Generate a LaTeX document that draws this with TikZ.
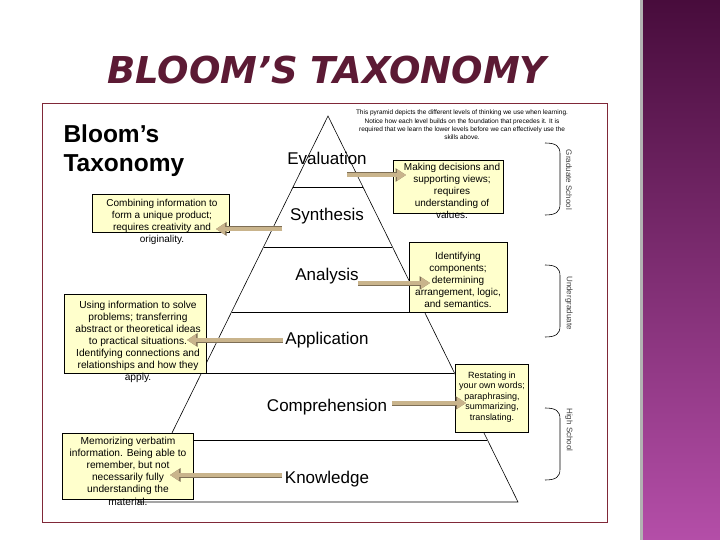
\documentclass[tikz,border=0pt]{standalone}
\usepackage{fontspec}
\setmainfont{Liberation Sans}
\newfontfamily\titlefont{DejaVu Sans}
\usetikzlibrary{arrows.meta}
\definecolor{titlered}{RGB}{92,26,52}
\definecolor{framered}{RGB}{128,40,56}
\definecolor{notebox}{RGB}{255,255,204}
\definecolor{arrowtan}{RGB}{201,180,140}
\definecolor{arrowedge}{RGB}{125,110,85}
\definecolor{stripdark}{RGB}{72,12,60}
\definecolor{stripmid}{RGB}{125,45,112}
\definecolor{striplight}{RGB}{180,78,168}

\begin{document}
\begin{tikzpicture}[x=1pt,y=-1pt,
  note/.style={draw=black,line width=0.5pt,fill=notebox,inner sep=0pt},
  notetext/.style={font=\fontsize{10}{11.8}\selectfont,align=center,inner sep=0pt},
  level/.style={font=\fontsize{17}{20}\selectfont},
  flow/.style={draw=arrowtan,line width=3.6pt,-{Triangle[length=9pt,width=11pt]},
    preaction={draw=arrowedge,line width=5pt,-{Triangle[length=10.5pt,width=13pt]}}},
  bracket/.style={line width=0.6pt},
  school/.style={font=\fontsize{8}{9}\selectfont,rotate=-90,text=black!75}]
\useasboundingbox (0,0) rectangle (720,540);
\fill[white] (0,0) rectangle (720,540);
% side strip
\fill[black!30] (640,0) rectangle (643,540);
\shade[top color=stripdark,middle color=stripmid,bottom color=striplight] (643,0) rectangle (720,540);
\node[font=\titlefont\bfseries\itshape\fontsize{37}{40}\selectfont,text=titlered] (title) at (327,70) {BLOOM’S TAXONOMY};
\draw[framered,line width=0.9pt] (42,103) rectangle (607,522);
\node[font=\bfseries\fontsize{24.5}{29}\selectfont,align=left,anchor=west] (heading) at (60,151) {Bloom’s\\Taxonomy};
\node[font=\fontsize{6.5}{8.4}\selectfont,align=center] (intro) at (462,125) {This pyramid depicts the different levels of thinking we use when learning.\\Notice how each level builds on the foundation that precedes it. It is\\required that we learn the lower levels before we can effectively use the\\skills above.};
% pyramid
\draw[line width=0.6pt] (328,116) -- (138,502) -- (518,502) -- cycle;
\foreach \yy in {187,247,312,373,440} {\draw[line width=0.6pt] ({328-0.492*(\yy-116)},\yy) -- ({328+0.492*(\yy-116)},\yy);}
\foreach \nm/\yy/\txt in {eval/158/Evaluation,syn/216/Synthesis,ana/276/Analysis,app/340/Application,comp/407/Comprehension,know/479/Knowledge}
  {\node[level] (\nm lvl) at (327,\yy) {\txt};}
% boxes
\node[note,minimum width=110pt,minimum height=53pt] (evalbox) at (448,186.5) {};
\node[note,minimum width=137pt,minimum height=38pt] (synbox) at (160.5,213) {};
\node[note,minimum width=98pt,minimum height=70pt] (anabox) at (458,277) {};
\node[note,minimum width=142pt,minimum height=79pt] (appbox) at (135,333.5) {};
\node[note,minimum width=73pt,minimum height=68pt] (compbox) at (491.5,398) {};
\node[note,minimum width=131pt,minimum height=66pt] (knowbox) at (127.5,466) {};
\node[notetext] (evaltext) at (452,191) {Making decisions and\\supporting views;\\requires\\understanding of\\values.};
\node[notetext] (syntext) at (162,222) {Combining information to\\form a unique product;\\requires creativity and\\originality.};
\node[notetext] (anatext) at (458,280) {Identifying\\components;\\determining\\arrangement, logic,\\and semantics.};
\node[notetext,font=\fontsize{10.2}{12.1}\selectfont] (apptext) at (138,342) {Using information to solve\\problems; transferring\\abstract or theoretical ideas\\to practical situations.\\Identifying connections and\\relationships and how they\\apply.};
\node[notetext,font=\fontsize{9}{10.6}\selectfont] (comptext) at (492,397) {Restating in\\your own words;\\paraphrasing,\\summarizing,\\translating.};
\node[notetext,font=\fontsize{10.2}{12.2}\selectfont] (knowtext) at (128,471) {Memorizing verbatim\\information. Being able to\\remember, but not\\necessarily fully\\understanding the\\material.};
% arrows
\coordinate (evaltail) at (347,175); \coordinate (evaltip) at (406,175);
\coordinate (syntail) at (282,229); \coordinate (syntip) at (216,229);
\coordinate (anatail) at (358,283); \coordinate (anatip) at (430,283);
\coordinate (apptail) at (283,340); \coordinate (apptip) at (187,340);
\coordinate (comptail) at (392,403); \coordinate (comptip) at (466,403);
\coordinate (knowtail) at (282,475); \coordinate (knowtip) at (170,475);
\foreach \nm in {eval,syn,ana,app,comp,know} {\draw[flow] (\nm tail) -- (\nm tip);}
% school brackets
\foreach \ya/\yb in {143/215,265/337,408/480}
  {\draw[bracket] (545,\ya) .. controls (556,\ya) and (560,\ya+3) .. (560,\ya+11) -- (560,\yb-11) .. controls (560,\yb-3) and (556,\yb) .. (545,\yb);}
\node[school] (gradlbl) at (569,180) {Graduate School};
\node[school] (underlbl) at (569,303) {Undergraduate};
\node[school] (highlbl) at (569,430) {High School};
\end{tikzpicture}
\end{document}
